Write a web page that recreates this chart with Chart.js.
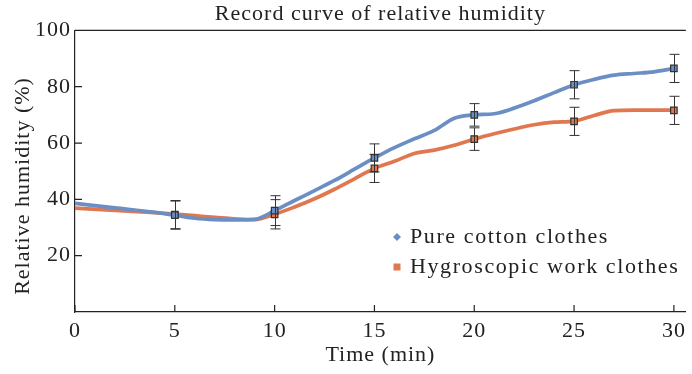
<!DOCTYPE html>
<html>
<head>
<meta charset="utf-8">
<script src="https://cdn.jsdelivr.net/npm/chart.js@4"></script>
<style>
  html, body { margin: 0; padding: 0; background: #fff; }
  #wrap { width: 692px; height: 374px; }
</style>
</head>
<body>
<div id="wrap"><canvas id="chart" width="692" height="374"></canvas></div>
<script>
// Data
const seriesNames = ["Pure cotton clothes", "Hygroscopic work clothes"];
const lineTimes = [0, 2, 4, 5, 6, 7, 8, 9, 10, 11, 12, 13, 14, 15, 16, 17, 18, 19, 20, 21, 22, 23, 24, 25, 26, 27, 28, 29, 30];
const cottonLine = [38.6, 37.0, 35.4, 34.4, 33.3, 32.8, 32.7, 32.9, 36.0, 39.6, 43.1, 46.7, 50.7, 54.7, 58.4, 61.5, 64.5, 68.8, 70.0, 70.4, 72.4, 75.0, 77.9, 80.7, 82.6, 84.1, 84.7, 85.3, 86.5];
const workLine = [36.9, 36.1, 35.3, 34.8, 34.2, 33.6, 33.1, 32.8, 34.7, 37.3, 40.2, 43.6, 47.3, 51.0, 53.5, 56.3, 57.5, 59.2, 61.4, 63.3, 65.0, 66.5, 67.4, 67.8, 69.8, 71.5, 71.7, 71.7, 71.7];
const markTimes = [5, 10, 15, 20, 25, 30];
const cottonMarks = [34.4, 36.0, 54.7, 70.0, 80.7, 86.5];
const cottonErr = [5, 5.3, 5, 4, 5, 5];
const workMarks = [34.6, 34.7, 51.0, 61.4, 67.7, 71.6];
const workErr = [5, 5.2, 5, 4, 5, 5];
const xTicks = [0, 5, 10, 15, 20, 25, 30];
const yTicks = [20, 40, 60, 80, 100];
const yTitle = "Relative humidity (%)";

const blue = "#6b8fc4";
const orange = "#e0774f";
const ink = "#222";
const serif = "'Liberation Serif', 'DejaVu Serif', serif";

const pts = (xs, ys) => xs.map((x, i) => ({ x: x, y: ys[i] }));

// widen the Times-like glyphs a little toward the reference's serif
const spacing = {
    id: "spacing",
    beforeLayout(chart) { chart.ctx.letterSpacing = "1px"; },
    beforeDraw(chart) { chart.ctx.letterSpacing = "1px"; }
};

// error bars, inward ticks, top border, y title and legend
const extras = {
    id: "extras",
    afterDatasetsDraw(chart) {
        const ctx = chart.ctx;
        const xs = chart.scales.x, ys = chart.scales.y;
        ctx.save();
        ctx.strokeStyle = "#333";
        ctx.lineWidth = 1;
        [[cottonMarks, cottonErr], [workMarks, workErr]].forEach(([vals, errs]) => {
            markTimes.forEach((t, i) => {
                const px = Math.round(xs.getPixelForValue(t)) + 0.5;
                const top = ys.getPixelForValue(vals[i] + errs[i]);
                const bot = ys.getPixelForValue(vals[i] - errs[i]);
                ctx.beginPath();
                ctx.moveTo(px, top); ctx.lineTo(px, bot);
                ctx.moveTo(px - 5, top); ctx.lineTo(px + 5, top);
                ctx.moveTo(px - 5, bot); ctx.lineTo(px + 5, bot);
                ctx.stroke();
            });
        });
        ctx.restore();
    },
    afterDraw(chart) {
        const ctx = chart.ctx;
        const xs = chart.scales.x, ys = chart.scales.y;
        const a = chart.chartArea;
        ctx.save();
        ctx.strokeStyle = ink;
        ctx.lineWidth = 1.2;
        ctx.beginPath();
        ctx.moveTo(a.left, a.top); ctx.lineTo(a.right, a.top);
        xTicks.forEach(t => {
            const px = xs.getPixelForValue(t);
            ctx.moveTo(px, a.bottom); ctx.lineTo(px, a.bottom - 7);
        });
        yTicks.forEach(v => {
            const py = ys.getPixelForValue(v);
            ctx.moveTo(a.left, py); ctx.lineTo(a.left + 7, py);
        });
        ctx.stroke();

        // y axis title, sits a bit below the middle in the reference
        ctx.fillStyle = ink;
        ctx.font = "22px " + serif;
        ctx.letterSpacing = "1px";
        ctx.textAlign = "center";
        ctx.textBaseline = "middle";
        ctx.translate(23, 186);
        ctx.rotate(-Math.PI / 2);
        ctx.fillText(yTitle, 0, 0);
        ctx.setTransform(1, 0, 0, 1, 0, 0);

        // legend
        ctx.textAlign = "left";
        ctx.letterSpacing = "1.6px";
        const lx = 397, ly = [237, 267];
        ctx.fillStyle = blue;
        ctx.beginPath();
        ctx.moveTo(lx, ly[0] - 4); ctx.lineTo(lx + 4, ly[0]); ctx.lineTo(lx, ly[0] + 4); ctx.lineTo(lx - 4, ly[0]);
        ctx.closePath(); ctx.fill();
        ctx.fillStyle = orange;
        ctx.fillRect(lx - 3.5, ly[1] - 3.5, 7, 7);
        ctx.fillStyle = ink;
        ctx.fillText(seriesNames[0], 410, ly[0]);
        ctx.fillText(seriesNames[1], 410, ly[1]);
        ctx.restore();
    }
};

new Chart(document.getElementById("chart"), {
    type: "line",
    data: {
        datasets: [
            { label: seriesNames[1], data: pts(lineTimes, workLine), borderColor: orange, borderWidth: 3.7, pointRadius: 0, cubicInterpolationMode: "monotone", order: 4 },
            { label: seriesNames[0], data: pts(lineTimes, cottonLine), borderColor: blue, borderWidth: 3.7, pointRadius: 0, cubicInterpolationMode: "monotone", order: 3 },
            { label: seriesNames[1], data: pts(markTimes, workMarks), showLine: false, pointStyle: "rect", pointRadius: 4.6, backgroundColor: orange, borderColor: "#333", pointBorderWidth: 1.2, order: 2 },
            { label: seriesNames[0], data: pts(markTimes, cottonMarks), showLine: false, pointStyle: "rect", pointRadius: 4.6, backgroundColor: blue, borderColor: "#333", pointBorderWidth: 1.2, order: 1 }
        ]
    },
    options: {
        responsive: false,
        animation: false,
        layout: { padding: 0 },
        plugins: {
            legend: { display: false },
            tooltip: { enabled: false },
            title: {
                display: true,
                fullSize: false,
                text: "Record curve of relative humidity",
                color: ink,
                font: { family: serif, size: 22, weight: "normal" },
                padding: { top: 1, bottom: 3 }
            }
        },
        scales: {
            x: {
                type: "linear",
                min: 0, max: 30.6,
                afterBuildTicks: s => { s.ticks = xTicks.map(v => ({ value: v })); },
                afterFit: s => { s.height = 62; },
                grid: { display: false, drawTicks: false },
                border: { color: ink, width: 1.2 },
                ticks: { color: ink, font: { family: serif, size: 22 }, padding: 6, maxRotation: 0 },
                title: { display: true, text: "Time (min)", color: ink, font: { family: serif, size: 22 }, padding: { top: 0, bottom: 6 } }
            },
            y: {
                min: 0, max: 100,
                afterBuildTicks: s => { s.ticks = yTicks.map(v => ({ value: v })); },
                afterFit: s => { s.width = 75; },
                grid: { display: false, drawTicks: false },
                border: { color: ink, width: 1.2 },
                ticks: { color: ink, font: { family: serif, size: 22 }, padding: 4 }
            }
        }
    },
    plugins: [spacing, extras]
});
</script>
</body>
</html>
